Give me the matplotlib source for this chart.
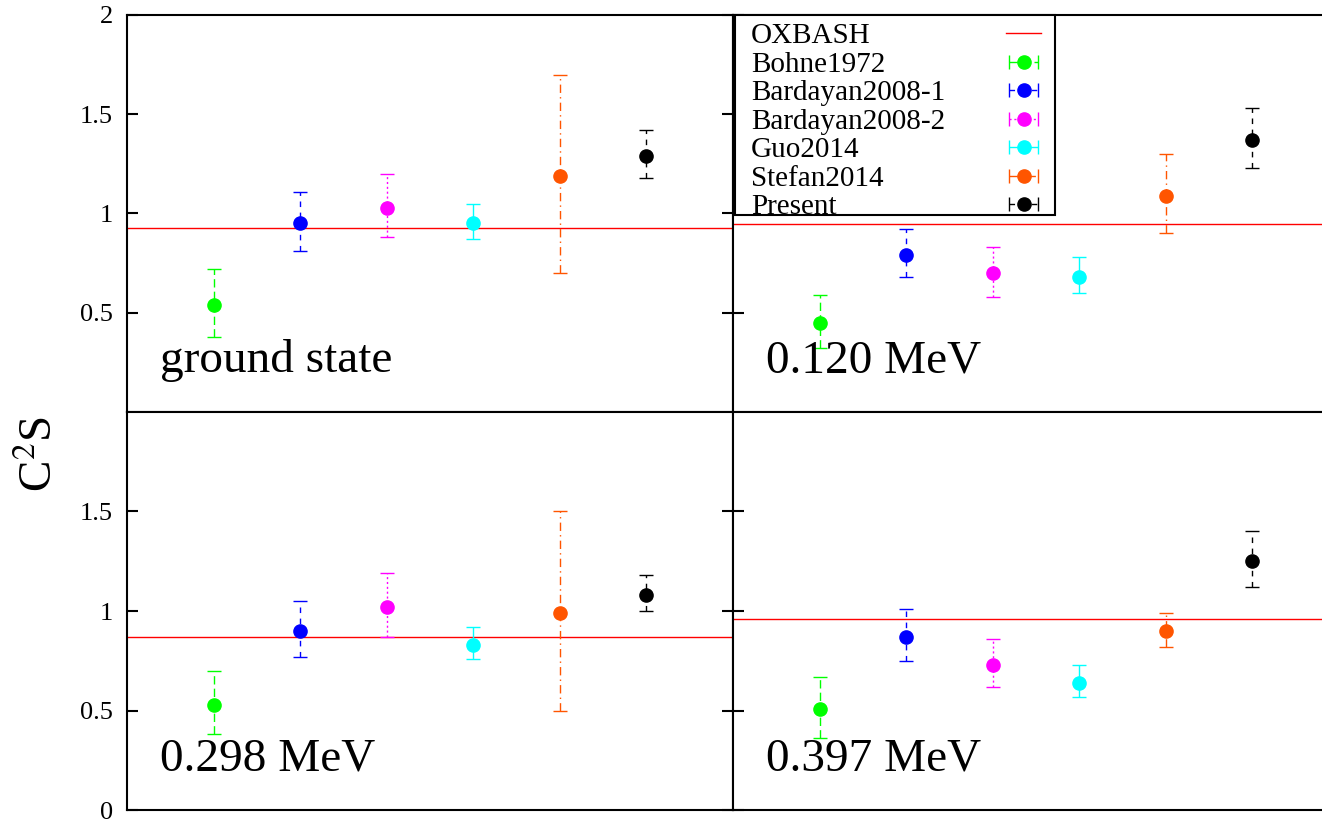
import os
os.environ.setdefault("MPLBACKEND", "Agg")

import numpy as np
import matplotlib.pyplot as plt
from matplotlib.lines import Line2D
from matplotlib.patches import Rectangle
from matplotlib.ticker import FixedLocator, NullLocator

plt.rcParams['font.family'] = ['Liberation Serif', 'DejaVu Serif']
plt.rcParams['mathtext.fontset'] = 'stix'

# data sets, in plotting order
datasets = ["Bohne1972", "Bardayan2008-1", "Bardayan2008-2", "Guo2014", "Stefan2014", "Present"]
colors = ["#00ff00", "#0000ff", "#ff00ff", "#00ffff", "#ff5500", "#000000"]
dashes = [(0, (6, 3)), (0, (4, 4)), (0, (1.5, 2)), "solid", (0, (6, 3, 1, 3)), (0, (4, 4))]

panel_labels = ["ground state", "0.120 MeV", "0.298 MeV", "0.397 MeV"]

# spectroscopic factors C^2S with asymmetric errors (minus, plus)
gs_val = [0.54, 0.95, 1.03, 0.95, 1.19, 1.29]
gs_minus = [0.16, 0.14, 0.15, 0.08, 0.49, 0.11]
gs_plus = [0.18, 0.16, 0.17, 0.10, 0.51, 0.13]

e120_val = [0.45, 0.79, 0.70, 0.68, 1.09, 1.37]
e120_minus = [0.13, 0.11, 0.12, 0.08, 0.19, 0.14]
e120_plus = [0.14, 0.13, 0.13, 0.10, 0.21, 0.16]

e298_val = [0.53, 0.90, 1.02, 0.83, 0.99, 1.08]
e298_minus = [0.15, 0.13, 0.15, 0.07, 0.49, 0.08]
e298_plus = [0.17, 0.15, 0.17, 0.09, 0.51, 0.10]

e397_val = [0.51, 0.87, 0.73, 0.64, 0.90, 1.25]
e397_minus = [0.15, 0.12, 0.11, 0.07, 0.08, 0.13]
e397_plus = [0.16, 0.14, 0.13, 0.09, 0.09, 0.15]

# shell-model (OXBASH) values per state
oxbash = [0.925, 0.947, 0.868, 0.959]

panels = [
    (gs_val, gs_minus, gs_plus),
    (e120_val, e120_minus, e120_plus),
    (e298_val, e298_minus, e298_plus),
    (e397_val, e397_minus, e397_plus),
]

W, H = 1322, 822
fig = plt.figure(figsize=(W / 100, H / 100), dpi=100)

pw = 606 / W
x0 = [127 / W, 733 / W]
top_b, top_h = (H - 412) / H, 397 / H
bot_b, bot_h = (H - 810) / H, 398 / H
rects = [
    (x0[0], top_b, pw, top_h),
    (x0[1], top_b, pw, top_h),
    (x0[0], bot_b, pw, bot_h),
    (x0[1], bot_b, pw, bot_h),
]

xpos = np.arange(1, 7)
axes = []
for i, (rect, (val, lo, hi)) in enumerate(zip(rects, panels)):
    ax = fig.add_axes(rect)
    axes.append(ax)
    ax.axhline(oxbash[i], color="#ff0000", lw=1.0, zorder=1)
    for j in range(len(datasets)):
        eb = ax.errorbar(xpos[j], val[j], yerr=[[lo[j]], [hi[j]]], fmt="o",
                         color=colors[j], ms=9.5, elinewidth=1.0, capsize=5,
                         capthick=1.0, zorder=3)
        eb[2][0].set_linestyle(dashes[j])
    ax.set_xlim(0, 7)
    ax.set_ylim(0, 2)
    ax.xaxis.set_major_locator(NullLocator())
    for s in ax.spines.values():
        s.set_linewidth(1.5)
    ax.tick_params(axis="y", direction="in", left=True, right=True,
                   length=8, width=1.5, labelsize=19, pad=10)
    if i in (0, 1):
        ax.yaxis.set_major_locator(FixedLocator([0.5, 1, 1.5, 2]))
        ax.set_yticklabels(["0.5", "1", "1.5", "2"])
    else:
        ax.yaxis.set_major_locator(FixedLocator([0, 0.5, 1, 1.5]))
        ax.set_yticklabels(["0", "0.5", "1", "1.5"])
    if i in (1, 3):
        ax.tick_params(axis="y", labelleft=False)
    ax.text(0.38, 0.2, panel_labels[i], fontsize=34, va="baseline", ha="left",
            transform=ax.transData)

# legend samples: red line for OXBASH, horizontal error bars for the data
handles = [Line2D([], [], color="#ff0000", lw=1.0)]
for j in range(len(datasets)):
    proxy = axes[1].errorbar([np.nan], [np.nan], xerr=[[1], [1]], fmt="o",
                             color=colors[j], ms=9.5, elinewidth=1.0,
                             capsize=5, capthick=1.0)
    proxy[2][0].set_linestyle(dashes[j])
    handles.append(proxy)
axes[1].set_xlim(0, 7)
labels = ["OXBASH"] + datasets

# legend box drawn on its own, the two legends below sit inside it
box = Rectangle((735 / W, 1 - 215 / H), 320 / W, 200 / H, transform=fig.transFigure,
                facecolor="white", edgecolor="black", lw=1.5, zorder=4)
fig.patches.append(box)

leg_kw = dict(fontsize=21, borderaxespad=0, borderpad=0.3, labelspacing=0.073,
              bbox_transform=fig.transFigure, frameon=False)

# left-aligned labels
blank = [Line2D([], [], visible=False) for _ in labels]
fig.legend(blank, labels, loc="upper left", bbox_to_anchor=(729 / W, 1 - 14 / H),
           handlelength=0, handletextpad=0.45, **leg_kw)

# samples on the right-hand side of the same rows
fig.legend(handles, [""] * len(labels), loc="upper right",
           bbox_to_anchor=(1050 / W, 1 - 14 / H),
           markerfirst=False, handlelength=1.2, handletextpad=0, **leg_kw)

fig.text(40 / W, 1 - 454 / H, r"C$^2$S", fontsize=34, rotation=90,
         ha="center", va="center")

fig.savefig("out.png", dpi=100)
